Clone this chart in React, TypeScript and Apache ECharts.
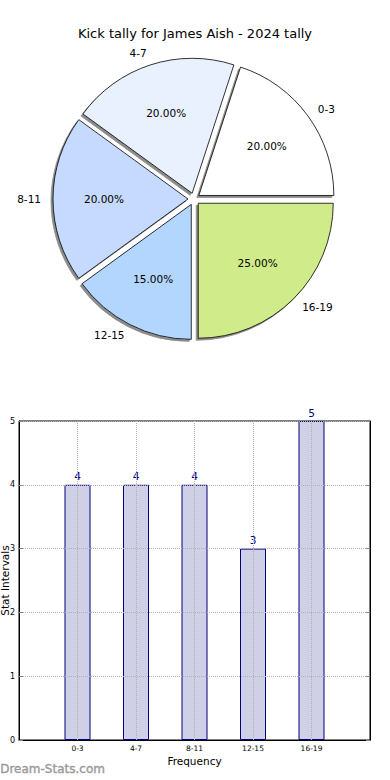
import React, { useEffect, useRef } from 'react';
import * as echarts from 'echarts';

const TITLE = 'Kick tally for James Aish - 2024 tally';
const categories = ['0-3', '4-7', '8-11', '12-15', '16-19'];
const values = [4, 4, 4, 3, 5];
const sliceColors = ['#ffffff', '#eaf1fe', '#c6d9fe', '#b3d6fe', '#d0eb8a'];
const yMin = 0;
const yMax = 5;
const yInterval = 1;
const xAxisName = 'Frequency';
const yAxisName = 'Stat Intervals';
const WATERMARK = 'Dream-Stats.com';

export default function App() {
  const ref = useRef<HTMLDivElement>(null);
  useEffect(() => {
    const chart = echarts.init(ref.current!, null, { renderer: 'svg' });
    const font = 'DejaVu Sans';
    const cx = 194;
    const cy = 199;
    const R = 135;
    const off = 6;
    const baseItem = {
      borderColor: '#000',
      borderWidth: 0.8,
      shadowBlur: 1,
      shadowColor: 'rgba(0,0,0,0.45)',
      shadowOffsetX: -2,
      shadowOffsetY: 2,
    };
    const pieData = categories.map((c, i) => ({
      name: c,
      value: values[i],
      selected: true,
      itemStyle: { color: sliceColors[i] },
      select: { itemStyle: { color: sliceColors[i], borderColor: '#000', borderWidth: 0.8 } },
    }));
    const labelData = categories.map((c, i) => ({ name: c, value: values[i], selected: true }));
    const option: any = {
      animation: false,
      textStyle: { fontFamily: font },
      title: {
        text: TITLE,
        left: 'center',
        top: 22,
        textStyle: { fontSize: 13, fontWeight: 'normal', color: '#000', fontFamily: font },
      },
      grid: {
        left: 19,
        right: 20,
        top: 421,
        bottom: 40,
        show: true,
        borderColor: '#000',
        borderWidth: 1,
        containLabel: false,
        outerBoundsMode: 'none',
      },
      xAxis: {
        type: 'category',
        data: ['', ...categories, ''],
        boundaryGap: false,
        z: 5,
        name: xAxisName,
        nameLocation: 'middle',
        nameGap: 15,
        nameMoveOverlap: false,
        nameTextStyle: { fontSize: 10.5, color: '#000', fontFamily: font },
        axisLine: { show: true, lineStyle: { color: '#000', width: 1 } },
        axisTick: { show: false },
        axisLabel: { fontSize: 7.5, color: '#000', margin: 4, interval: 0, fontFamily: font },
        splitLine: { show: true, lineStyle: { type: 'dotted', color: '#b0b0b0', width: 1 } },
      },
      yAxis: [
        {
          type: 'value',
          min: yMin,
          max: yMax,
          interval: yInterval,
          z: 5,
          name: yAxisName,
          nameLocation: 'middle',
          nameGap: 9,
          nameMoveOverlap: false,
          nameTextStyle: { fontSize: 10.5, color: '#000', fontFamily: font },
          axisLine: { show: true, lineStyle: { color: '#000', width: 1 } },
          axisTick: { show: true, inside: true, length: 4, lineStyle: { color: '#888' } },
          axisLabel: { fontSize: 8, color: '#000', margin: 4, fontFamily: font },
          splitLine: { show: true, lineStyle: { type: 'dotted', color: '#b0b0b0', width: 1 } },
        },
        {
          type: 'value',
          min: yMin,
          max: yMax,
          interval: yInterval,
          position: 'right',
          z: 5,
          axisLine: { show: true, lineStyle: { color: '#000', width: 1 } },
          axisTick: { show: true, inside: true, length: 4, lineStyle: { color: '#888' } },
          axisLabel: { show: false },
          splitLine: { show: false },
        },
      ],
      series: [
        {
          type: 'bar',
          data: ['-', ...values, '-'],
          barWidth: 26,
          z: 2,
          itemStyle: { color: '#cfcfe6', borderColor: '#000080', borderWidth: 1 },
          label: {
            show: true,
            position: 'top',
            distance: 3,
            color: '#000080',
            fontSize: 10.5,
            fontFamily: font,
          },
          emphasis: { disabled: true },
        },
        {
          type: 'pie',
          center: [cx, cy],
          radius: R,
          startAngle: 0,
          clockwise: false,
          selectedMode: 'multiple',
          selectedOffset: off,
          avoidLabelOverlap: false,
          z: 2,
          label: { show: true, position: 'outside', fontSize: 10.5, color: '#000', fontFamily: font, distanceToLabelLine: 0 },
          labelLine: { show: false, length: 12, length2: 0 },
          itemStyle: baseItem,
          emphasis: { disabled: true },
          data: pieData,
        },
        {
          type: 'pie',
          center: [cx, cy],
          radius: [R * 0.4, R * 0.8],
          startAngle: 0,
          clockwise: false,
          selectedMode: 'multiple',
          selectedOffset: off,
          avoidLabelOverlap: false,
          silent: true,
          z: 3,
          label: {
            show: true,
            position: 'inside',
            fontSize: 10.5,
            color: '#000',
            fontFamily: font,
            formatter: (p: any) => p.percent.toFixed(2) + '%',
          },
          labelLine: { show: false },
          itemStyle: { color: 'rgba(0,0,0,0)', borderWidth: 0 },
          select: { itemStyle: { color: 'rgba(0,0,0,0)', borderWidth: 0 } },
          emphasis: { disabled: true },
          data: labelData,
        },
      ],
      graphic: [
        {
          type: 'text',
          left: 0,
          top: 763,
          style: { text: WATERMARK, fontSize: 12, fontFamily: font, fill: '#9a9a9a', fontWeight: 'normal', stroke: '#9a9a9a', lineWidth: 0.4 },
        },
      ],
    };
    chart.setOption(option);
    return () => chart.dispose();
  }, []);
  return (
    <div
      ref={ref}
      style={{ position: 'absolute', left: 0, top: 0, width: 390, height: 780, background: '#fff' }}
    />
  );
}
